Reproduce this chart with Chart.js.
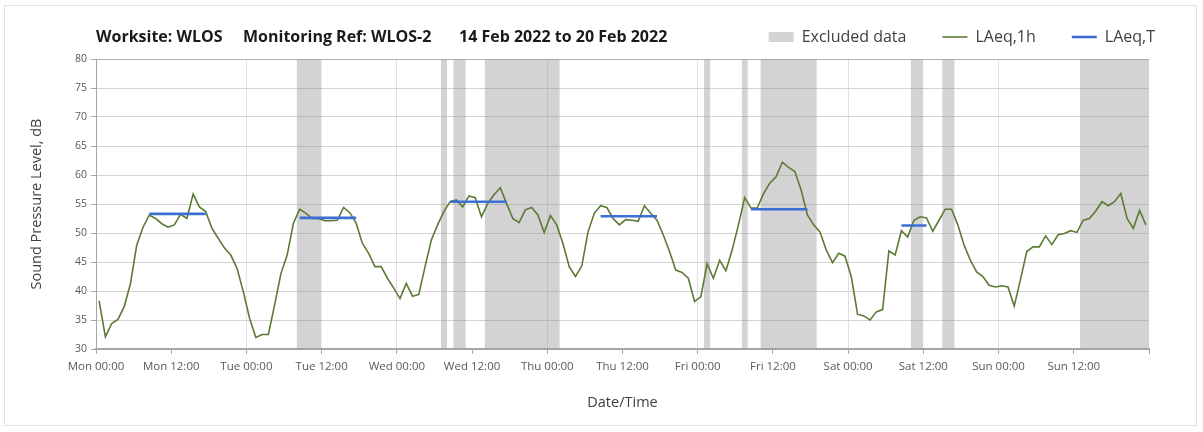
<!DOCTYPE html>
<html><head><meta charset="utf-8">
<script src="https://cdn.jsdelivr.net/npm/chart.js@4.4.0/dist/chart.umd.min.js"></script>
<style>
html,body{margin:0;padding:0;background:#fff;}
#wrap{position:relative;width:1203px;height:432px;overflow:hidden;background:#fff;}
#frame{position:absolute;left:4px;top:5px;width:1193px;height:421px;border:1px solid #e2e2e2;box-sizing:border-box;}
#c{position:absolute;left:0;top:0;}
.t{position:absolute;top:26px;font:bold 16px "Open Sans",sans-serif;color:#1a1a1a;white-space:nowrap;line-height:20px;}
</style></head>
<body><div id="wrap"><div id="frame"></div><canvas id="c" width="1203" height="432"></canvas>
<div class="t" style="left:96px">Worksite: WLOS</div>
<div class="t" style="left:243px">Monitoring Ref: WLOS-2</div>
<div class="t" style="left:459px">14 Feb 2022 to 20 Feb 2022</div>
</div>
<script>
// ---- data ----
const tickLabels = ['Mon 00:00','Mon 12:00','Tue 00:00','Tue 12:00','Wed 00:00','Wed 12:00','Thu 00:00','Thu 12:00','Fri 00:00','Fri 12:00','Sat 00:00','Sat 12:00','Sun 00:00','Sun 12:00'];
const yTicks = [30,35,40,45,50,55,60,65,70,75,80];
// LAeq,1h hourly values from Mon 00:00 (168 hours)
const laeq1h = [
 38.3,32.1,34.4,35.1,37.3,41.3,47.9,51.0,53.1,52.5,
 51.6,51.0,51.4,53.2,52.5,56.7,54.5,53.7,50.8,49.1,
 47.4,46.2,43.9,39.9,35.3,32.0,32.5,32.5,37.6,43.0,
 46.2,51.7,54.1,53.4,52.5,52.5,52.1,52.1,52.2,54.4,
 53.5,51.7,48.2,46.5,44.2,44.2,42.2,40.5,38.7,41.3,
 39.1,39.4,44.2,48.8,51.4,53.7,55.4,55.7,54.5,56.4,
 56.1,52.8,55.1,56.6,57.8,55.1,52.5,51.8,54.0,54.4,
 53.1,50.1,53.0,51.4,48.2,44.2,42.5,44.3,50.2,53.4,
 54.7,54.4,52.5,51.4,52.3,52.2,52.0,54.7,53.4,52.2,
 49.7,46.8,43.6,43.2,42.2,38.2,39.0,44.7,42.2,45.3,
 43.5,47.1,51.4,56.1,54.3,54.3,56.8,58.6,59.7,62.2,
 61.3,60.6,57.4,53.1,51.4,50.2,47.1,44.9,46.5,46.0,
 42.5,36.0,35.7,35.0,36.4,36.8,46.9,46.2,50.4,49.3,
 52.2,52.8,52.6,50.3,52.2,54.1,54.1,51.4,47.9,45.3,
 43.3,42.5,41.0,40.7,40.9,40.7,37.4,42.0,46.8,47.6,
 47.6,49.5,48.0,49.7,49.9,50.4,50.1,52.2,52.5,53.8,
 55.4,54.7,55.4,56.8,52.5,50.8,53.9,51.4
];
// LAeq,T periods (first hour, last hour, level)
const periodStart = [8, 32, 56, 80, 104, 128];
const periodEnd   = [17, 41, 65, 89, 113, 132];
const periodLevel = [53.3, 52.6, 55.4, 52.9, 54.1, 51.3];
// Excluded data periods (start hour, end hour)
const excludedStart = [32, 55, 57, 62, 97, 103, 106, 130, 135, 157];
const excludedEnd   = [36, 56, 59, 74, 98, 104, 115, 132, 137, 168];
const yMin = 30, yMax = 80;

// ---- build datasets ----
const lineData = laeq1h.map((v, i) => ({x: i + 0.5, y: v}));
const bandData = [];
excludedStart.forEach((s, k) => {
  bandData.push({x: s, y: yMax});
  bandData.push({x: excludedEnd[k], y: yMax});
  bandData.push({x: excludedEnd[k], y: null});
});
const tData = [];
periodStart.forEach((s, k) => {
  tData.push({x: s + 0.5, y: periodLevel[k]});
  tData.push({x: periodEnd[k] + 0.5, y: periodLevel[k]});
  tData.push({x: periodEnd[k] + 1, y: null});
});

const FONT = '"Open Sans", sans-serif';
const chart = new Chart(document.getElementById('c'), {
  type: 'line',
  data: { datasets: [
    { label: 'Excluded data', data: bandData, backgroundColor: 'rgba(150,150,150,0.42)', borderColor: 'rgba(0,0,0,0)',
      borderWidth: 0, pointRadius: 0, pointStyle: 'rect', fill: { value: yMin }, spanGaps: false, order: 3 },
    { label: 'LAeq,1h', data: lineData, borderColor: '#5b7a34', backgroundColor: '#5b7a34', borderWidth: 1.6,
      pointRadius: 0, pointStyle: 'line', tension: 0, fill: false, order: 2 },
    { label: 'LAeq,T', data: tData, borderColor: '#3c6fd6', backgroundColor: '#3c6fd6', borderWidth: 2.6,
      pointRadius: 0, pointStyle: 'line', spanGaps: false, fill: false, order: 1 }
  ]},
  options: {
    responsive: false, animation: false, devicePixelRatio: 1,
    layout: { padding: { top: -7, left: 20, right: 12, bottom: 20 } },
    plugins: {
      tooltip: { enabled: false },
      filler: { propagate: false },
      legend: { position: 'top', align: 'end',
        labels: { usePointStyle: true, pointStyleWidth: 25, boxHeight: 10, padding: 36,
          sort: (a, b) => a.datasetIndex - b.datasetIndex,
          color: '#404040', font: { family: FONT, size: 16 } } }
    },
    scales: {
      x: { type: 'linear', min: 0, max: 168, position: 'bottom', offset: false,
        afterBuildTicks: s => { s.ticks = tickLabels.map((_, i) => ({value: i * 12})).concat([{value: 168}]); },
        ticks: { autoSkip: false, maxRotation: 0, padding: 6, color: '#595959', font: { family: FONT, size: 11.5 },
          callback: v => tickLabels[v / 12] || '' },
        grid: { offset: false, color: c => (c.tick && c.tick.value % 24 === 0 && c.tick.value > 0 && c.tick.value < 168) ? '#e0e0e0' : 'rgba(0,0,0,0)',
          tickColor: '#a6a6a6', tickLength: 5, lineWidth: 1 },
        border: { color: '#a6a6a6', width: 2 },
        title: { display: true, text: 'Date/Time', color: '#404040', font: { family: FONT, size: 14.5 }, padding: { top: 4, bottom: 0 } },
        afterFit: s => { s.height = 63; } },
      xTop: { type: 'linear', min: 0, max: 168, position: 'top', display: true, offset: false,
        ticks: { display: false }, grid: { display: false, drawTicks: false }, border: { display: false },
        afterFit: s => { s.height = 4; } },
      yRight: { type: 'linear', min: yMin, max: yMax, position: 'right', display: true,
        ticks: { display: false }, grid: { display: false, drawTicks: false }, border: { display: false },
        afterFit: s => { s.width = 42; } },
      y: { type: 'linear', min: yMin, max: yMax, position: 'left',
        afterBuildTicks: s => { s.ticks = yTicks.map(v => ({value: v})); },
        ticks: { padding: 4, color: '#595959', font: { family: FONT, size: 10.5 } },
        grid: { color: c => (c.tick && c.tick.value === 80) ? '#b3b3b3' : '#d3d3d3', tickColor: '#a6a6a6', tickLength: 5, lineWidth: 1 },
        border: { color: '#a6a6a6', width: 1 },
        title: { display: true, text: 'Sound Pressure Level, dB', color: '#404040', font: { family: FONT, size: 14.5 }, padding: { top: 8, bottom: 0 } },
        afterFit: s => { s.width = 76; } }
    }
  }
});
</script>
</body></html>
